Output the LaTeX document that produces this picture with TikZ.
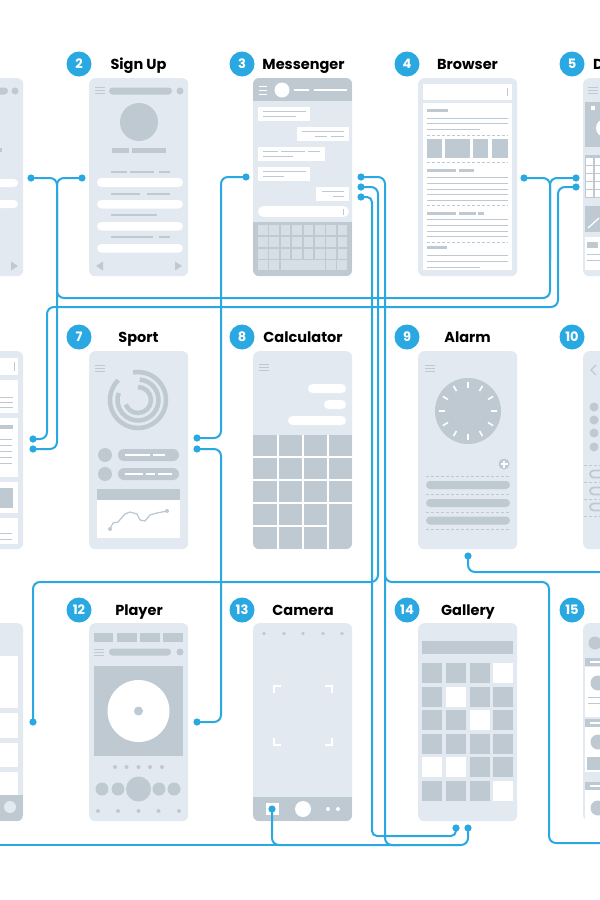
\documentclass[tikz,border=0pt]{standalone}
\usepackage{fontspec}
\newfontfamily\lblfont{Poppins}
\definecolor{scr}{HTML}{E2E9F0}
\definecolor{gr}{HTML}{BEC9D2}
\definecolor{kb}{HTML}{D6DEE6}
\definecolor{bl}{HTML}{29A8E1}
\tikzset{
 screen/.style={fill=scr, rounded corners=6pt, minimum width=99pt, minimum height=198pt, inner sep=0pt, anchor=north west},
 badge/.style={circle, fill=bl, minimum size=25pt, inner sep=0pt, text=white, font=\lblfont\bfseries\fontsize{13}{13}\selectfont},
 title/.style={anchor=base, inner sep=0pt, font=\lblfont\bfseries\fontsize{14.5}{14.5}\selectfont, text=black},
 conn/.style={draw=bl, line width=2pt, rounded corners=7pt},
 thinl/.style={draw=gr, line width=1.2pt},
 bthin/.style={draw=gr, line width=0.9pt},
 dsh/.style={draw=gr, line width=0.9pt, dash pattern=on 3pt off 2pt},
}
\newcommand\hmb[2]{\draw[gr, line width=1pt] (#1,#2) -- ++(10,0) (#1,#2+3) -- ++(10,0) (#1,#2+6) -- ++(10,0);}
\begin{document}
\begin{tikzpicture}[x=1pt,y=-1pt]
\useasboundingbox (0,0) rectangle (600,900);
\clip (0,0) rectangle (600,900);
\fill[white] (0,0) rectangle (600,900);

% ---------- titles and badges ----------
\node[badge] (n2) at (79,64) {2};
\node[badge] (n3) at (242,64) {3};
\node[badge] (n4) at (407,64) {4};
\node[badge] (n5) at (572,64) {5};
\node[badge] (n7) at (79,337) {7};
\node[badge] (n8) at (242,337) {8};
\node[badge] (n9) at (407,337) {9};
\node[badge] (n10) at (572,337) {10};
\node[badge] (n12) at (79,610) {12};
\node[badge] (n13) at (242,610) {13};
\node[badge] (n14) at (407,610) {14};
\node[badge] (n15) at (572,610) {15};
\node[title] (t2) at (138.5,69.5) {Sign Up};
\node[title] (t3) at (303.5,69.5) {Messenger};
\node[title] (t4) at (467.5,69.5) {Browser};
\node[title, anchor=base west] (t5) at (593,69.5) {D};
\node[title] (t7) at (138.5,342.5) {Sport};
\node[title] (t8) at (303,342.5) {Calculator};
\node[title] (t9) at (467.5,342.5) {Alarm};
\node[title] (t12) at (139,615.5) {Player};
\node[title] (t13) at (303,615.5) {Camera};
\node[title] (t14) at (468,615.5) {Gallery};

% ---------- screens ----------
\node[screen] (sc1) at (-76,78) {};
\node[screen] (sc2) at (89,78) {};
\node[screen] (sc3) at (253,78) {};
\node[screen] (sc4) at (418,78) {};
\node[screen] (sc5) at (583,78) {};
\node[screen] (sc6) at (-76,351) {};
\node[screen] (sc7) at (89,351) {};
\node[screen] (sc8) at (253,351) {};
\node[screen] (sc9) at (418,351) {};
\node[screen] (sc10) at (583,351) {};
\node[screen] (sc11) at (-76,623) {};
\node[screen] (sc12) at (89,623) {};
\node[screen] (sc13) at (253,623) {};
\node[screen] (sc14) at (418,623) {};
\node[screen] (sc15) at (583,623) {};

% screen 1
\fill[gr, rounded corners=3.5pt] (-20,87.5) rectangle (8,94.5);
\fill[gr] (15,91) circle (3.5);
\fill[gr] (-5,148) rectangle (2,152);
\fill[white, rounded corners=4pt] (-20,179) rectangle (18,187);
\fill[white, rounded corners=4pt] (-20,200) rectangle (18,208);
\fill[gr] (11,261.5) -- (18,266) -- (11,270.5) -- cycle;

% screen 2 Sign Up
\hmb{95}{87}
\fill[gr, rounded corners=3.5pt] (109,87.5) rectangle (172,94.5);
\fill[gr] (180,91) circle (3.5);
\fill[gr] (139,122) circle (19);
\fill[gr] (112,148) rectangle (129,153);
\fill[gr] (132,148) rectangle (166,153);
\draw[thinl] (111,172) -- (127,172) (130,172) -- (154,172) (159,172) -- (170,172);
\fill[white, rounded corners=4.5pt] (97,178) rectangle (183,187);
\draw[thinl] (111,194) -- (140,194) (147,194) -- (170,194);
\fill[white, rounded corners=4.5pt] (97,200) rectangle (183,208.5);
\draw[thinl] (111,215) -- (157,215);
\fill[white, rounded corners=4.5pt] (97,222) rectangle (183,230.5);
\draw[thinl] (111,237) -- (153,237) (159,237) -- (170,237);
\fill[white, rounded corners=4.5pt] (97,244) rectangle (183,252.5);
\fill[gr] (103,261.5) -- (96,266) -- (103,270.5) -- cycle;
\fill[gr] (175,261.5) -- (182,266) -- (175,270.5) -- cycle;

% screen 3 Messenger
\begin{scope}
\clip[rounded corners=6pt] (253,78) rectangle (352,276);
\fill[gr] (253,78) rectangle (352,101);
\fill[gr] (253,222) rectangle (352,276);
\end{scope}
\draw[white, line width=1pt] (259,86.5) -- ++(8,0) (259,90.5) -- ++(8,0) (259,94.5) -- ++(8,0);
\fill[white] (282,90) circle (7.5);
\draw[white, line width=1.5pt] (294,90) -- (309,90) (314,90) -- (347,90);
\fill[white] (258,107) rectangle (310,121);
\draw[bthin] (263,111.5) -- (306,111.5) (263,116.5) -- (296,116.5);
\fill[white] (297,127) rectangle (349,141);
\draw[bthin] (302,131.5) -- (344,131.5) (315,136.5) -- (327,136.5) (331,136.5) -- (344,136.5);
\fill[white] (258,147) rectangle (325,161);
\draw[bthin] (263,151.5) -- (278,151.5) (281,151.5) -- (305,151.5) (308,151.5) -- (320,151.5) (263,156.5) -- (293,156.5);
\fill[white] (258,167) rectangle (310,181);
\draw[bthin] (263,171.5) -- (306,171.5) (263,176.5) -- (284,176.5);
\fill[white] (316,187) rectangle (349,201);
\draw[bthin] (322,191.5) -- (344,191.5) (333,196.5) -- (344,196.5);
\fill[white, rounded corners=5.5pt] (258,206) rectangle (349,217);
\draw[gr, line width=1pt] (343,208.5) -- (343,214.5);
\foreach \r in {0,1,2} \foreach \c in {0,...,7} \fill[kb] (258+\c*11.4,225+\r*11.8) rectangle ++(9.6,10);
\fill[kb] (258,260.4) rectangle ++(9.6,10);
\fill[kb] (269.4,260.4) rectangle ++(9.6,10);
\fill[kb] (280.8,260.4) rectangle ++(43.8,10);
\fill[kb] (326,260.4) rectangle ++(9.6,10);
\fill[kb] (337.4,260.4) rectangle ++(9.6,10);

% screen 4 Browser
\fill[white] (423,84) rectangle (512,100);
\draw[gr, line width=1pt] (507,88) -- (507,96);
\fill[white] (423,103) rectangle (512,270);
\fill[gr] (427,108.5) rectangle (448,111.5);
\draw[bthin] (427,118) -- (508,118) (427,123) -- (508,123) (427,129) -- (480,129);
\draw[dsh] (427,135) -- (508,135);
\fill[gr] (427,139) rectangle (442,158);
\fill[gr] (445,139) rectangle (470,158);
\fill[gr] (473,139) rectangle (488,158);
\fill[gr] (492,139) rectangle (508,158);
\draw[dsh] (427,162) -- (508,162);
\fill[gr] (427,168.5) rectangle (456,171.5);
\fill[gr] (459,168.5) rectangle (474,171.5);
\draw[bthin] (427,177) -- (508,177) (427,183) -- (508,183) (427,189) -- (508,189) (427,194) -- (508,194) (427,200) -- (508,200);
\draw[dsh] (427,205) -- (508,205);
\fill[gr] (427,211.5) rectangle (456,214.5);
\fill[gr] (459,211.5) rectangle (476,214.5);
\fill[gr] (478,211.5) rectangle (484,214.5);
\draw[bthin] (427,219) -- (508,219) (427,225) -- (508,225) (427,231) -- (508,231) (427,236) -- (508,236);
\draw[dsh] (427,242) -- (508,242);
\fill[gr] (427,245.5) rectangle (447,248.5);
\draw[bthin] (427,255) -- (508,255) (427,261) -- (508,261) (427,267) -- (480,267);

% screen 5 partial
\hmb{588}{87}
\fill[gr] (585,102) rectangle (610,147);
\fill[white] (591,106) rectangle (595,110);
\fill[white] (605,128) circle (9);
\fill[gr] (585,155) rectangle (610,198);
\foreach \r in {0,...,4} \foreach \c in {0,1,2} \fill[white] (586+\c*8.5,158+\r*8) rectangle ++(7,6.5);
\fill[gr] (585,206) rectangle (610,232);
\draw[white, line width=1.3pt] (588,228) -- (599,218);
\fill[white] (585,237) rectangle (610,270);
\fill[gr] (587,242) rectangle (598,248);
\draw[bthin] (587,254) -- (610,254) (587,260) -- (610,260);

% screen 6 partial
\fill[white] (-20,358) rectangle (18,375);
\draw[gr, line width=1pt] (14,362) -- (14,371);
\fill[white] (-20,380) rectangle (18,413);
\draw[bthin] (-5,397) -- (13,397) (-5,402) -- (13,402) (-5,407) -- (13,407);
\fill[white] (-20,418) rectangle (18,477);
\fill[gr] (-5,425) rectangle (13,429);
\draw[bthin] (-5,439) -- (12,439) (-5,445) -- (12,445) (-5,451) -- (12,451) (-5,457) -- (12,457) (-5,463) -- (12,463);
\fill[white] (-20,482) rectangle (18,513);
\fill[gr] (-5,488) rectangle (13,508);
\fill[white] (-20,518) rectangle (18,544);
\draw[bthin] (-5,533) -- (12,533) (-5,539) -- (12,539);

% screen 7 Sport
\hmb{95}{365}
\draw[gr, line width=4.5pt] (138,400) ++(-100:28) arc[start angle=-100, end angle=225, radius=28];
\draw[gr, line width=4.5pt] (138,400) ++(-85:20.5) arc[start angle=-85, end angle=200, radius=20.5];
\draw[gr, line width=4.5pt] (138,400) ++(-90:13) arc[start angle=-90, end angle=160, radius=13];
\fill[gr] (105,455) circle (7);
\fill[gr, rounded corners=6pt] (118,449) rectangle (179,461);
\draw[white, line width=1.3pt] (125,455) -- (150,455) (153,455) -- (165,455);
\fill[gr] (105,474) circle (7);
\fill[gr, rounded corners=6pt] (118,468) rectangle (179,480);
\draw[white, line width=1.3pt] (125,474) -- (143,474) (146,474) -- (155,474) (158,474) -- (172,474);
\fill[gr] (97,489) rectangle (180,500);
\fill[white] (97,500) rectangle (180,538);
\draw[gr, line width=1.3pt] (110,529) -- (113,523) -- (118,522) -- (125,514) -- (130,512) -- (137,514) -- (140,520) -- (145,521) -- (150,515) -- (157,513) -- (167,511);
\fill[gr] (110,529) circle (2) (167,511) circle (2);

% screen 8 Calculator
\hmb{259}{364}
\fill[white, rounded corners=4.5pt] (308,384) rectangle (346,393);
\fill[white, rounded corners=4.5pt] (324,400) rectangle (346,409);
\fill[white, rounded corners=4.5pt] (288,416) rectangle (346,425);
\begin{scope}
\clip[rounded corners=6pt] (253,351) rectangle (352,549);
\fill[gr] (253,435) rectangle (352,549);
\end{scope}
\draw[white, line width=1.5pt] (278,435) -- (278,549) (303,435) -- (303,549) (328,435) -- (328,549) (253,457) -- (352,457) (253,480) -- (352,480) (253,503) -- (352,503) (253,526) -- (328,526);

% screen 9 Alarm
\hmb{425}{365}
\fill[gr] (468,411) circle (33);
\foreach \a in {0,30,...,330} \draw[white, line width=1.6pt] (468,411) ++(\a:23) -- ++(\a:6);
\fill[gr] (504,464) circle (5.5);
\draw[white, line width=1.5pt] (500.5,464) -- (507.5,464) (504,460.5) -- (504,467.5);
\draw[dsh] (426,476) -- (510,476) (426,494) -- (510,494) (426,512) -- (510,512) (426,529) -- (510,529);
\fill[gr, rounded corners=4pt] (426,481) rectangle (510,489);
\fill[gr, rounded corners=4pt] (426,499) rectangle (510,507);
\fill[gr, rounded corners=4pt] (426,516.5) rectangle (510,524.5);

% screen 10 partial
\draw[gr, line width=1.3pt] (596,365) -- (591,370) -- (596,375);
\foreach \y in {407,420,433,447} \fill[gr] (594,\y) circle (4.5);
\draw[dsh] (584,465) -- (610,465) (584,482.5) -- (610,482.5) (584,499) -- (610,499) (584,516) -- (610,516);
\draw[gr, line width=1.8pt, rounded corners=3.5pt] (590,470.5) rectangle (615,477.5);
\draw[gr, line width=1.8pt, rounded corners=3.5pt] (590,487.5) rectangle (615,494.5);
\draw[gr, line width=1.8pt, rounded corners=3.5pt] (590,503.5) rectangle (615,510.5);

% screen 11 partial
\fill[white] (-20,656) rectangle (18,708);
\fill[white] (-20,713) rectangle (18,738);
\fill[white] (-20,743) rectangle (18,767);
\fill[white] (-20,772) rectangle (18,795);
\begin{scope}
\clip[rounded corners=6pt] (-76,623) rectangle (23,821);
\fill[gr] (-76,795) rectangle (23,821);
\end{scope}
\fill[scr] (10,807) circle (6);

% screen 12 Player
\fill[gr] (94,633) rectangle (113,642);
\fill[gr] (117,633) rectangle (137,642);
\fill[gr] (140,633) rectangle (160,642);
\fill[gr] (163,633) rectangle (183,642);
\hmb{94}{649}
\fill[gr, rounded corners=3.5pt] (109,648.5) rectangle (171,655.5);
\fill[gr] (180,652) circle (3.5);
\fill[gr] (94,666) rectangle (183,756);
\fill[white] (138.5,711) circle (31);
\fill[gr] (138.5,711) circle (4.5);
\foreach \x in {115,126.5,138.5,150,162} \fill[gr] (\x,767) circle (2);
\fill[gr] (102,789) circle (6.5) (118,789) circle (6.5) (138.5,789) circle (12.5) (159,789) circle (6.5) (174,789) circle (6.5);
\foreach \x in {98,118,138.5,158.5,179} \fill[gr] (\x,811) circle (2);

% screen 13 Camera
\foreach \x in {264,284,303,323,342} \fill[gr] (\x,633.5) circle (1.8);
\draw[white, line width=1.8pt] (274,693) -- (274,686) -- (281,686) (325,686) -- (332,686) -- (332,693) (274,738) -- (274,745) -- (281,745) (325,745) -- (332,745) -- (332,738);
\begin{scope}
\clip[rounded corners=6pt] (253,623) rectangle (352,821);
\fill[gr] (253,797) rectangle (352,821);
\end{scope}
\fill[white] (266,803) rectangle (279,815);
\fill[white] (303,809) circle (8);
\fill[white] (328,809) circle (2) (338,809) circle (2);

% screen 14 Gallery
\fill[gr] (422,641) rectangle (513,654);
\foreach \c/\x in {0/422,1/446,2/470,3/493}
  \foreach \r/\y in {0/663,1/687,2/710,3/734,4/757,5/781}
    \fill[gr] (\x,\y) rectangle ++(20,20);
\fill[white] (493,663) rectangle ++(20,20);
\fill[white] (446,687) rectangle ++(20,20);
\fill[white] (470,710) rectangle ++(20,20);
\fill[white] (422,757) rectangle ++(20,20);
\fill[white] (446,757) rectangle ++(20,20);
\fill[white] (493,781) rectangle ++(20,20);

% screen 15 partial
\fill[gr] (595,643) circle (6.5);
\fill[gr] (585,658) rectangle (610,666);
\draw[white, line width=1.3pt] (590,662) -- (600,662);
\fill[white] (585,667) rectangle (610,717);
\fill[gr] (598,683) circle (7.5);
\draw[bthin] (588,697) -- (610,697) (588,703) -- (610,703);
\fill[gr] (585,719) rectangle (610,727);
\draw[white, line width=1.3pt] (590,723) -- (600,723);
\fill[white] (585,727) rectangle (610,772);
\fill[gr] (598,742) circle (7.5);
\fill[gr] (587,757) rectangle (600,770);
\fill[gr] (585,782) rectangle (610,790);
\draw[white, line width=1.3pt] (590,786) -- (600,786);
\fill[white] (585,790) rectangle (610,822);
\fill[gr] (598,808) circle (7.5);

% ---------- connector end points ----------
\coordinate (a1) at (31,178);
\coordinate (a2) at (82,178);
\coordinate (b1) at (524,178);
\coordinate (b2) at (576,178);
\coordinate (b3) at (576,187);
\coordinate (f1) at (33,439);
\coordinate (f2) at (33,449);
\coordinate (m0) at (246,177);
\coordinate (m1) at (361,177);
\coordinate (m2) at (361,187);
\coordinate (m3) at (361,197);
\coordinate (s1) at (197,438);
\coordinate (s2) at (197,449);
\coordinate (p1) at (197,722);
\coordinate (q1) at (33,722);
\coordinate (al) at (468,556);
\coordinate (c1) at (272,809);
\coordinate (g1) at (456,828);
\coordinate (g2) at (468,828);
\coordinate (e15) at (610,843);
\coordinate (e10) at (610,572);
\coordinate (w0) at (-10,845);

% ---------- connectors ----------
\draw[conn] (a1) -- (57,178) -- (57,449) -- (f2);
\draw[conn] (a2) -- (57,178) -- (57,298) -- (550,298) -- (550,178) -- (b1);
\draw[conn] (b2) -- (550,178) -- (550,260);
\draw[conn] (b3) -- (558,187) -- (558,307) -- (47,307) -- (47,439) -- (f1);
\draw[conn] (m0) -- (221,177) -- (221,438) -- (s1);
\draw[conn] (s2) -- (221,449) -- (221,722) -- (p1);
\draw[conn] (m1) -- (385,177) -- (385,582) -- (549,582) -- (549,843) -- (e15);
\draw[conn] (385,560) -- (385,845) -- (468,845) -- (g2);
\draw[conn] (m2) -- (378,187) -- (378,582) -- (33,582) -- (q1);
\draw[conn, rounded corners=5pt] (m3) -- (372,197) -- (372,836) -- (456,836) -- (g1);
\draw[conn] (c1) -- (272,845) -- (400,845);
\draw[conn] (w0) -- (300,845);
\draw[conn] (al) -- (468,572) -- (e10);

\foreach \p in {a1,a2,b1,b2,b3,f1,f2,m0,m1,m2,m3,s1,s2,p1,q1,al,c1,g1,g2}
  \fill[bl] (\p) circle (3.6);
\end{tikzpicture}
\end{document}
